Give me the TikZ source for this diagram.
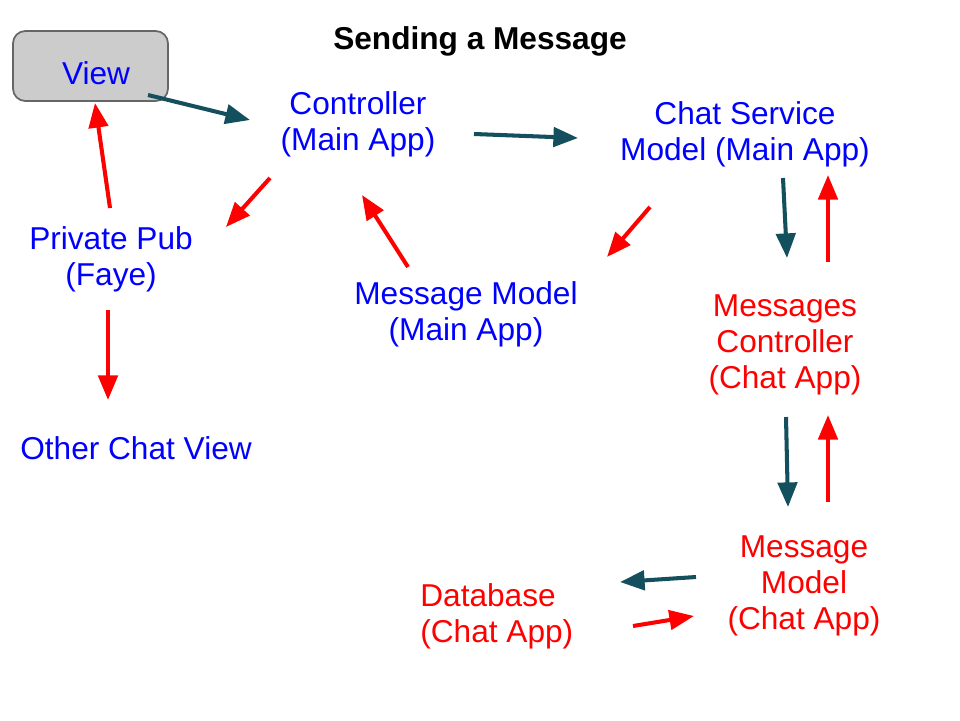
\documentclass[tikz,border=0pt]{standalone}
\usepackage{fontspec}
\setmainfont{Liberation Sans}
\usetikzlibrary{arrows.meta}
\definecolor{mainblue}{HTML}{0000FF}
\definecolor{chatred}{HTML}{FF0000}
\definecolor{darkteal}{HTML}{134F5C}
\begin{document}
\begin{tikzpicture}[x=0.02cm, y=-0.02cm,
  txt/.style={align=center, font=\fontsize{18}{20.6}\selectfont, inner sep=0pt},
  main/.style={txt, text=mainblue},
  chat/.style={txt, text=chatred},
  fwd/.style={-{Triangle[length=14pt,width=11pt]}, line width=2.3pt, draw=darkteal},
  back/.style={-{Triangle[length=14pt,width=11pt]}, line width=2.3pt, draw=chatred}]
\useasboundingbox (0,0) rectangle (960,720);
\node[txt, font=\fontsize{18}{20.6}\selectfont\bfseries] (title) at (480,41) {Sending a Message};
\node[draw=black!60, fill=black!20, rounded corners=7pt, line width=1pt, minimum width=3.1cm, minimum height=1.4cm] (box) at (90.5,66) {};
\node[main] (view) at (96,73) {View};
\node[main] (ctrl) at (358,124) {Controller\\(Main App)};
\node[main] (chatsvc) at (745,134) {Chat Service\\Model (Main App)};
\node[main] (pub) at (111,259) {Private Pub\\(Faye)};
\node[main] (msgmain) at (466,314) {Message Model\\(Main App)};
\node[main] (other) at (136,448) {Other Chat View};
\node[chat] (msgctrl) at (785,345) {Messages\\Controller\\(Chat App)};
\node[chat] (msgchat) at (804,586) {Message\\Model\\(Chat App)};
\node[chat, align=left, anchor=west] (db) at (420,616) {Database\\(Chat App)};
% arrow ends
\coordinate (viewout) at (148,95);
\coordinate (ctrlin) at (250,120);
\coordinate (ctrlout) at (474,134);
\coordinate (chatsvcin) at (578,138);
\coordinate (ctrlpub) at (270,178);
\coordinate (pubin) at (226,227);
\coordinate (pubup) at (110,208);
\coordinate (viewin) at (95,103);
\coordinate (pubdown) at (108,310);
\coordinate (otherin) at (108,400);
\coordinate (msgmainout) at (408,267);
\coordinate (ctrlback) at (362,195);
\coordinate (chatsvcout) at (650,207);
\coordinate (msgmainin) at (607,257);
\coordinate (svcdown) at (783,178);
\coordinate (msgctrlin) at (787,258);
\coordinate (msgctrlup) at (828,262);
\coordinate (svcback) at (828,175);
\coordinate (msgctrldown) at (786,417);
\coordinate (msgchatin) at (788,507);
\coordinate (msgchatup) at (828,502);
\coordinate (msgctrlback) at (828,415);
\coordinate (msgchatout) at (696,577);
\coordinate (dbin) at (620,582);
\coordinate (dbout) at (633,626);
\coordinate (msgchatback) at (694,616);
\path (viewout) edge[fwd] (ctrlin);
\path (ctrlout) edge[fwd] (chatsvcin);
\path (svcdown) edge[fwd] (msgctrlin);
\path (msgctrldown) edge[fwd] (msgchatin);
\path (msgchatout) edge[fwd] (dbin);
\path (dbout) edge[back] (msgchatback);
\path (msgchatup) edge[back] (msgctrlback);
\path (msgctrlup) edge[back] (svcback);
\path (chatsvcout) edge[back] (msgmainin);
\path (msgmainout) edge[back] (ctrlback);
\path (ctrlpub) edge[back] (pubin);
\path (pubup) edge[back] (viewin);
\path (pubdown) edge[back] (otherin);
\end{tikzpicture}
\end{document}
